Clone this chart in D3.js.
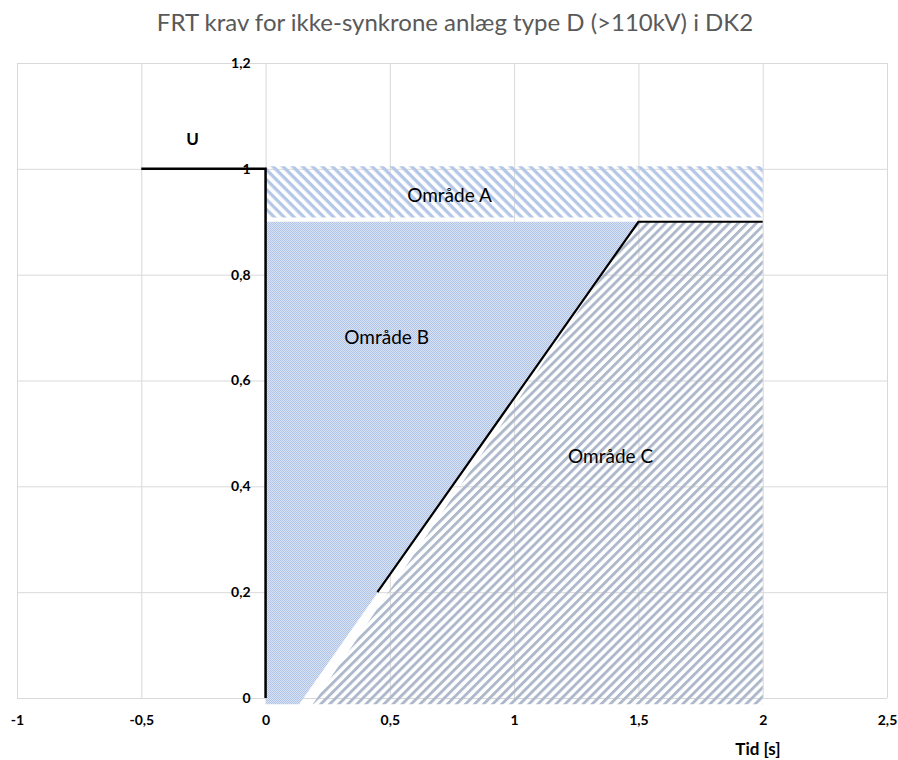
<!DOCTYPE html>
<html><head><meta charset="utf-8">
<script src="https://cdn.jsdelivr.net/npm/d3@7"></script>
<style>
html,body{margin:0;padding:0;background:#fff;}
svg{display:block;font-family:Lato,"Open Sans",sans-serif;}
</style></head>
<body><svg id="c" width="898" height="760"></svg>
<script>
const title = "FRT krav for ikke-synkrone anlæg type D (>110kV) i DK2";
const xTickValues = [-1,-0.5,0,0.5,1,1.5,2,2.5];
const xTickLabels = ["-1","-0,5","0","0,5","1","1,5","2","2,5"];
const yTickValues = [0,0.2,0.4,0.6,0.8,1,1.2];
const yTickLabels = ["0","0,2","0,4","0,6","0,8","1","1,2"];
const frtStep = [[-0.5,1],[0,1],[0,0]];
const limitLine = [[0.45,0.2],[1.5,0.9],[2,0.9]];
const areaA = [[0,0.908],[2,0.908],[2,1.005],[0,1.005]];
const areaB = [[0,-0.012],[0.135,-0.012],[1.5,0.9],[0,0.9]];
const areaC = [[0.19,-0.012],[1.5,0.9],[2,0.9],[2,-0.012]];
const areaNames = ["Område A","Område B","Område C"];
const areaLabelX = [0.74,0.487,1.388];
const areaLabelY = [0.947,0.678,0.453];
const yAxisName = "U";
const xAxisName = "Tid [s]";

const svg = d3.select("#c");
const x = d3.scaleLinear().domain([-1,2.5]).range([17,887]);
const y = d3.scaleLinear().domain([0,1.2]).range([698,63]);

const defs = svg.append("defs");
// Area A hatch "\"
const pA = defs.append("pattern").attr("id","hA").attr("patternUnits","userSpaceOnUse")
  .attr("width",7).attr("height",7).attr("patternTransform","rotate(45)");
pA.append("rect").attr("width",7).attr("height",3.3).attr("fill","#b4c7e7");
// Area C hatch "/"
const pC = defs.append("pattern").attr("id","hC").attr("patternUnits","userSpaceOnUse")
  .attr("width",6.4).attr("height",6.4).attr("patternTransform","rotate(-45)");
pC.append("rect").attr("width",6.4).attr("height",2.9).attr("fill","#adb9ca");
// Area B fine checker
const pB = defs.append("pattern").attr("id","hB").attr("patternUnits","userSpaceOnUse")
  .attr("width",2).attr("height",2);
pB.append("rect").attr("width",2).attr("height",2).attr("fill","#dae3f4");
pB.append("rect").attr("width",1).attr("height",1).attr("fill","#b0c4e8");
pB.append("rect").attr("x",1).attr("y",1).attr("width",1).attr("height",1).attr("fill","#b0c4e8");

// grid
svg.append("g").selectAll("line").data(xTickValues).join("line")
  .attr("x1",d=>x(d)+0.5).attr("x2",d=>x(d)+0.5).attr("y1",y(1.2)).attr("y2",y(0))
  .attr("stroke","#d9d9d9").attr("stroke-width",1);
svg.append("g").selectAll("line").data(yTickValues).join("line")
  .attr("x1",x(-1)).attr("x2",x(2.5)).attr("y1",d=>y(d)+0.5).attr("y2",d=>y(d)+0.5)
  .attr("stroke","#d9d9d9").attr("stroke-width",1);

const line = d3.line().x(d=>x(d[0])).y(d=>y(d[1]));
const poly = d3.line().x(d=>x(d[0])).y(d=>y(d[1])).curve(d3.curveLinearClosed);

svg.append("path").attr("d",poly(areaA)).attr("fill","url(#hA)");
svg.append("path").attr("d",poly(areaB)).attr("fill","url(#hB)");
svg.append("path").attr("d",poly(areaC)).attr("fill","url(#hC)");

svg.append("path").attr("d",line(frtStep)).attr("fill","none").attr("stroke","#000").attr("stroke-width",2.5);
svg.append("path").attr("d",line(limitLine)).attr("fill","none").attr("stroke","#000").attr("stroke-width",2.2);

// axes labels
const xAxis = d3.axisBottom(x).tickValues(xTickValues).tickFormat((d,i)=>xTickLabels[i]).tickSize(0).tickPadding(0);
const gx = svg.append("g").attr("transform",`translate(0,${y(0)+27})`).call(xAxis);
gx.select(".domain").remove();
gx.selectAll("text").attr("font-family","Lato, sans-serif").attr("font-size",14).attr("font-weight","bold").attr("fill","#000").attr("dy","0");

const yAxis = d3.axisLeft(y).tickValues(yTickValues).tickFormat((d,i)=>yTickLabels[i]).tickSize(0).tickPadding(0);
const gy = svg.append("g").attr("transform",`translate(${x(0)-15},0)`).call(yAxis);
gy.select(".domain").remove();
gy.selectAll("text").attr("font-family","Lato, sans-serif").attr("font-size",14).attr("font-weight","bold").attr("fill","#000");

svg.append("g").selectAll("text").data(areaNames).join("text")
  .attr("x",(d,i)=>x(areaLabelX[i])).attr("y",(d,i)=>y(areaLabelY[i]))
  .attr("text-anchor","middle").attr("dominant-baseline","middle")
  .attr("font-size",19).attr("fill","#000").text(d=>d);

svg.append("text").attr("x",x(-0.294)).attr("y",y(1.053)).attr("text-anchor","middle").attr("dominant-baseline","middle")
  .attr("font-size",17).attr("font-weight","bold").text(yAxisName);
svg.append("text").attr("x",758).attr("y",755).attr("text-anchor","middle")
  .attr("font-size",17).attr("font-weight","bold").text(xAxisName);

svg.append("text").attr("x",455).attr("y",31).attr("text-anchor","middle")
  .attr("font-size",24).attr("fill","#595959").text(title);
</script></body></html>
